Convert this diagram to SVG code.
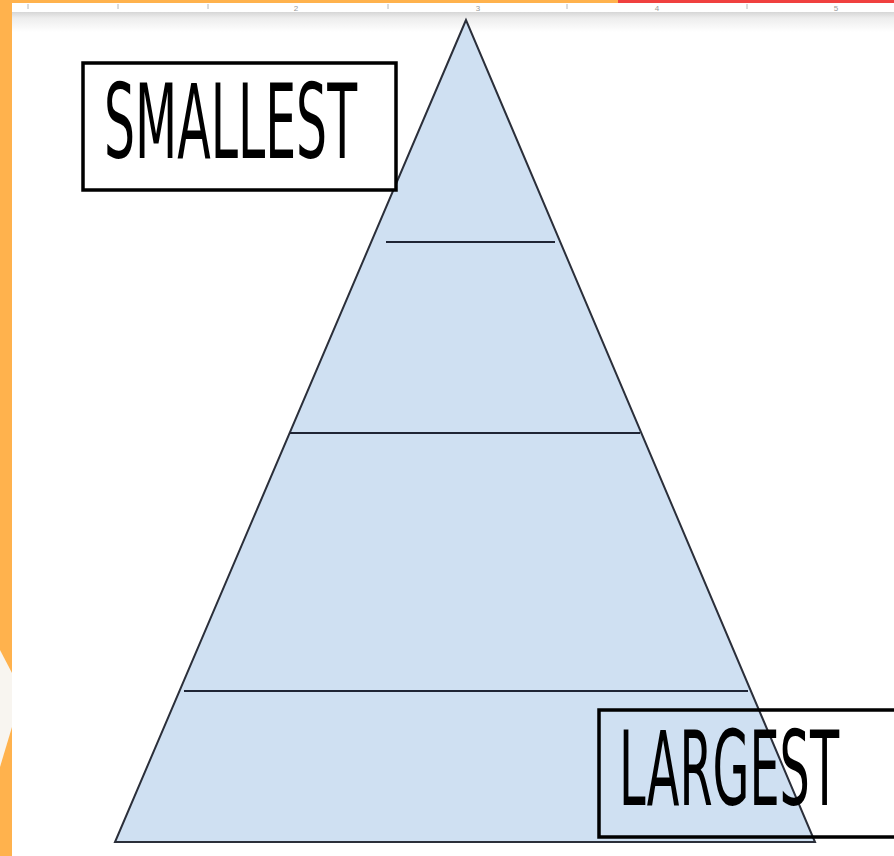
<svg xmlns="http://www.w3.org/2000/svg" width="894" height="856" viewBox="0 0 894 856">
  <defs>
    <linearGradient id="rulerShade" x1="0" y1="0" x2="0" y2="1">
      <stop offset="0" stop-color="#d6d6d6"/>
      <stop offset="0.3" stop-color="#ededed"/>
      <stop offset="1" stop-color="#ffffff"/>
    </linearGradient>
  </defs>
  <style>
    .tick { stroke: #b8b8b8; stroke-width: 1; }
    .num { font-family: "Liberation Sans", sans-serif; font-size: 8px; fill: #9a9a9a; }
    .tier { fill: none; stroke: #1f2535; stroke-width: 2; }
    .box { stroke: #000; stroke-width: 3.5; }
    .label { font-family: "Liberation Sans Narrow", "DejaVu Sans Condensed", "Liberation Sans", sans-serif; font-size: 104px; fill: #000; }
  </style>

  <rect x="0" y="0" width="894" height="856" fill="#ffffff"/>

  <!-- ruler strip -->
  <g id="ruler">
    <rect x="12" y="2" width="882" height="10" fill="#ffffff"/>
    <rect x="12" y="12" width="882" height="20" fill="url(#rulerShade)"/>
    <line class="tick" x1="28" y1="4" x2="28" y2="9"/>
    <line class="tick" x1="118" y1="4" x2="118" y2="9"/>
    <line class="tick" x1="208" y1="4" x2="208" y2="9"/>
    <line class="tick" x1="388" y1="4" x2="388" y2="9"/>
    <line class="tick" x1="567" y1="4" x2="567" y2="9"/>
    <line class="tick" x1="747" y1="4" x2="747" y2="9"/>
    <text class="num" x="296" y="11" text-anchor="middle">2</text>
    <text class="num" x="478" y="11" text-anchor="middle">3</text>
    <text class="num" x="657" y="11" text-anchor="middle">4</text>
    <text class="num" x="836" y="11" text-anchor="middle">5</text>
    <rect x="0" y="0" width="618" height="3" fill="#ffb24d"/>
    <rect x="618" y="0" width="276" height="3" fill="#f0403f"/>
  </g>

  <!-- left frame strip -->
  <g id="frame">
    <rect x="0" y="0" width="12" height="856" fill="#ffb24d"/>
    <polygon points="0,650 12,673 12,727 0,767" fill="#f8f5f0"/>
  </g>

  <!-- pyramid -->
  <g id="pyramid">
    <polygon points="466,20 115,842 815,842" fill="#cfe0f2" stroke="#2b2f3a" stroke-width="2" stroke-linejoin="miter"/>
  </g>

  <g id="connectors">
    <line class="tier" x1="386" y1="242" x2="555" y2="242"/>
    <line class="tier" x1="290" y1="433" x2="640" y2="433"/>
    <line class="tier" x1="184" y1="691" x2="748" y2="691"/>
  </g>

  <g id="smallest">
    <rect class="box" x="83" y="63" width="313" height="127" fill="#ffffff"/>
    <text class="label" x="104" y="158" textLength="253" lengthAdjust="spacingAndGlyphs">SMALLEST</text>
  </g>

  <g id="largest">
    <rect class="box" x="599" y="710" width="300" height="127" fill="none"/>
    <text class="label" x="619" y="805" textLength="220" lengthAdjust="spacingAndGlyphs">LARGEST</text>
  </g>
</svg>
